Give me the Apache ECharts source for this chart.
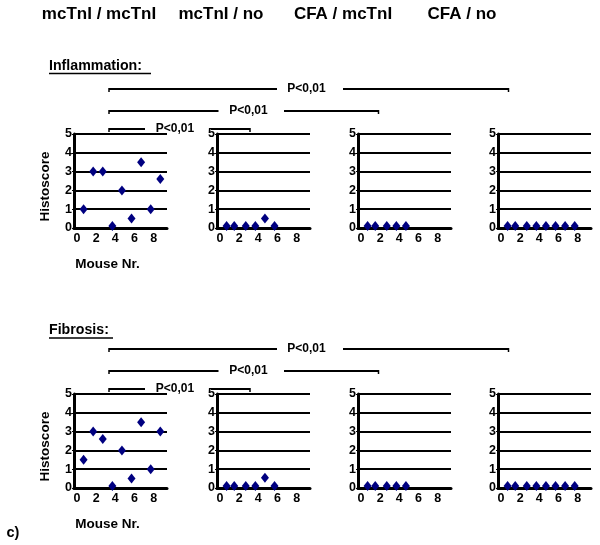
<!DOCTYPE html>
<html>
<head>
<meta charset="utf-8">
<script src="https://cdn.jsdelivr.net/npm/echarts@6/dist/echarts.min.js"></script>
<style>html,body{margin:0;padding:0;background:#fff}#c{width:600px;height:545px}</style>
</head>
<body>
<div id="c"></div>
<script>
// ---- data ----
const groupNames = ['mcTnI / mcTnI', 'mcTnI / no', 'CFA / mcTnI', 'CFA / no'];
const rowNames = ['Inflammation:', 'Fibrosis:'];
const xTickLabels = [0, 2, 4, 6, 8];
const yTickLabels = [0, 1, 2, 3, 4, 5];
const pLabel = 'P<0,01';

// mouse numbers per group
const mice_mcTnI_mcTnI = [1, 2, 3, 4, 5, 6, 7, 8, 9];
const mice_mcTnI_no = [1, 1.8, 3, 4, 5, 6];
const mice_CFA_mcTnI = [1, 1.8, 3, 4, 5];
const mice_CFA_no = [1, 1.8, 3, 4, 5, 6, 7, 8];

// Inflammation histoscores
const infl_mcTnI_mcTnI = [1, 3, 3, 0.1, 2, 0.5, 3.5, 1, 2.6];
const infl_mcTnI_no = [0.1, 0.1, 0.1, 0.1, 0.5, 0.1];
const infl_CFA_mcTnI = [0.1, 0.1, 0.1, 0.1, 0.1];
const infl_CFA_no = [0.1, 0.1, 0.1, 0.1, 0.1, 0.1, 0.1, 0.1];

// Fibrosis histoscores
const fib_mcTnI_mcTnI = [1.5, 3, 2.6, 0.1, 2, 0.5, 3.5, 1, 3];
const fib_mcTnI_no = [0.1, 0.1, 0.1, 0.1, 0.55, 0.1];
const fib_CFA_mcTnI = [0.1, 0.1, 0.1, 0.1, 0.1];
const fib_CFA_no = [0.1, 0.1, 0.1, 0.1, 0.1, 0.1, 0.1, 0.1];

const miceByGroup = [mice_mcTnI_mcTnI, mice_mcTnI_no, mice_CFA_mcTnI, mice_CFA_no];
const valuesByRow = [
  [infl_mcTnI_mcTnI, infl_mcTnI_no, infl_CFA_mcTnI, infl_CFA_no],
  [fib_mcTnI_mcTnI, fib_mcTnI_no, fib_CFA_mcTnI, fib_CFA_no]
];

// ---- layout ----
const FONT = '"Liberation Sans", Arial, sans-serif';
const gridLefts = [74, 217, 358, 498];
const gridWidth = 93;
const rowTops = [134, 394];
const gridHeight = 94;
const headerX = [99, 221, 343, 462];
const bracketRowOffsets = [0, 260];
const headerRowY = [66, 330.5];
const underlineY = [73.5, 338];
const underlineW = [102, 64];
const brackets = [
  { y: 89, x1: 109, x2: 508.5, g1: 277, g2: 343, tx: 306.5 },
  { y: 111, x1: 109, x2: 378.5, g1: 218.5, g2: 284, tx: 248.5 },
  { y: 129, x1: 109, x2: 250, g1: 145, g2: 211, tx: 175 }
];

const grids = [], xAxes = [], yAxes = [], series = [];
let k = 0;
for (let r = 0; r < 2; r++) {
  for (let g = 0; g < 4; g++) {
    grids.push({ left: gridLefts[g], top: rowTops[r], width: gridWidth, height: gridHeight, containLabel: false });
    xAxes.push({
      type: 'value', gridIndex: k, min: 0, max: 9.7,
      axisLine: { show: true, onZero: false, lineStyle: { color: '#000', width: 3 } },
      axisTick: { show: true, length: 2, customValues: xTickLabels, lineStyle: { color: '#000', width: 1 } },
      axisLabel: { customValues: xTickLabels, color: '#000', fontFamily: FONT, fontWeight: 'bold', fontSize: 12.5, margin: 4, padding: [0, 0, 0, 6] },
      splitLine: { show: false }
    });
    yAxes.push({
      type: 'value', gridIndex: k, min: 0, max: 5, interval: 1,
      axisLine: { show: true, onZero: false, lineStyle: { color: '#000', width: 3 } },
      axisTick: { show: true, length: 2, lineStyle: { color: '#000', width: 1 } },
      axisLabel: { color: '#000', fontFamily: FONT, fontWeight: 'bold', fontSize: 12.5, margin: 2 },
      splitLine: { show: true, lineStyle: { color: '#000', width: 1.8 } }
    });
    series.push({
      type: 'scatter', xAxisIndex: k, yAxisIndex: k,
      symbol: 'diamond', symbolSize: [8, 10],
      itemStyle: { color: '#000080', opacity: 1 },
      data: miceByGroup[g].map((m, i) => [m, valuesByRow[r][g][i]]),
      z: 5
    });
    k++;
  }
}

const graphics = [];
function txt(x, y, text, size, opts) {
  graphics.push(Object.assign({
    type: 'text', x: x, y: y,
    style: { text: text, font: 'bold ' + size + 'px ' + FONT, fill: '#000', textAlign: 'center', textVerticalAlign: 'middle' }
  }, opts || {}));
}
function line(x1, y1, x2, y2, w) {
  graphics.push({ type: 'line', shape: { x1, y1, x2, y2 }, style: { stroke: '#000', lineWidth: w || 2 } });
}
groupNames.forEach((n, i) => txt(headerX[i], 14, n, 17));
for (let r = 0; r < 2; r++) {
  txt(49, headerRowY[r], rowNames[r], 14.2, {});
  graphics[graphics.length - 1].style.textAlign = 'left';
  line(49, underlineY[r], 49 + underlineW[r], underlineY[r], 1.5);
  const dy = bracketRowOffsets[r];
  brackets.forEach(b => {
    line(b.x1, b.y + dy, b.g1, b.y + dy);
    line(b.g2, b.y + dy, b.x2, b.y + dy);
    line(b.x1, b.y + dy - 1, b.x1, b.y + dy + 3, 1.5);
    line(b.x2, b.y + dy - 1, b.x2, b.y + dy + 3, 1.5);
    txt(b.tx, b.y + dy - 0.5, pLabel, 12);
  });
  txt(45, rowTops[r] + 52.5, 'Histoscore', 13.5, { rotation: Math.PI / 2 });
  txt(107.5, rowTops[r] + 130, 'Mouse Nr.', 13.5);
}
txt(13, 532.5, 'c)', 14.5);

const chart = echarts.init(document.getElementById('c'), null, { renderer: 'canvas' });
chart.setOption({
  animation: false,
  backgroundColor: '#fff',
  grid: grids, xAxis: xAxes, yAxis: yAxes, series: series,
  graphic: { elements: graphics }
});
</script>
</body>
</html>
